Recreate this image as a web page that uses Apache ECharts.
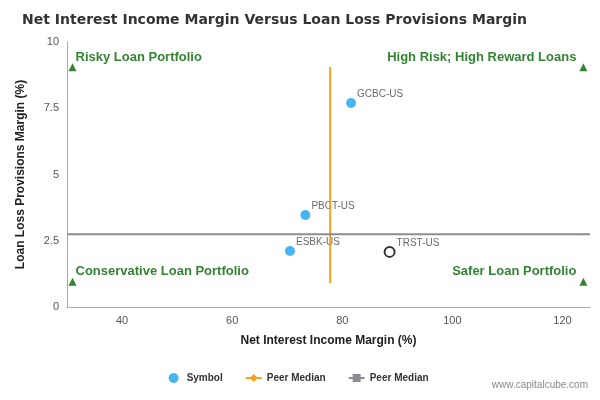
<!DOCTYPE html>
<html><head><meta charset="utf-8">
<script src="https://cdn.jsdelivr.net/npm/echarts@6/dist/echarts.min.js"></script>
<style>body{margin:0}#main{width:600px;height:400px}</style>
</head><body><div id="main"></div>
<script>
// data
var symbolNames = ['GCBC-US', 'PBCT-US', 'ESBK-US'];
var symbolX = [81.6, 73.3, 70.5];
var symbolY = [7.7, 3.47, 2.11];
var ownName = 'TRST-US';
var ownPoint = [88.6, 2.08];
var peerMedianX = 77.8;
var peerMedianY = 2.75;
var vLineY = [0.9, 9.06];
var hLineX = [30, 125];
var cornerNames = ['Risky Loan Portfolio', 'High Risk; High Reward Loans', 'Conservative Loan Portfolio', 'Safer Loan Portfolio'];
var cornerX = [31, 123.8, 31, 123.8];
var cornerY = [9.05, 9.05, 0.95, 0.95];

var myChart = echarts.init(document.getElementById('main'));
var green = '#006400';

var option = {
    animation: false,
    title: {
        text: 'Net Interest Income Margin Versus Loan Loss Provisions Margin',
        left: 17, top: 8,
        textStyle: {fontSize: 14, fontWeight: 'bold', color: '#333', fontFamily: 'DejaVu Sans'}
    },
    grid: {left: 67, right: 10, top: 42, bottom: 93},
    legend: {
        bottom: 12, itemGap: 22, itemWidth: 16, itemHeight: 10,
        textStyle: {fontSize: 10, fontWeight: 'bold', color: '#333'},
        data: [
            {name: 'Symbol', icon: 'circle'},
            {name: 'Peer Median'},
            {name: 'Peer Median '}
        ]
    },
    xAxis: {
        type: 'value', min: 30, max: 125, interval: 10,
        name: 'Net Interest Income Margin (%)', nameLocation: 'middle', nameGap: 28,
        nameTextStyle: {fontWeight: 'bold', fontSize: 12, color: '#222'},
        splitLine: {show: false},
        axisLine: {lineStyle: {color: '#aaa'}},
        axisTick: {show: false},
        axisLabel: {
            color: '#555', fontSize: 11,
            formatter: function (v) { return (v % 20 === 0 && v >= 40) ? v : ''; }
        }
    },
    yAxis: {
        type: 'value', min: 0, max: 10, interval: 2.5,
        name: 'Loan Loss Provisions Margin (%)', nameLocation: 'middle', nameGap: 40,
        nameTextStyle: {fontWeight: 'bold', fontSize: 12, color: '#222'},
        splitLine: {show: false},
        axisLine: {show: true, lineStyle: {color: '#aaa'}},
        axisTick: {show: false},
        axisLabel: {color: '#555', fontSize: 11}
    },
    series: [
        {
            name: 'Peer Median', type: 'line', symbol: 'diamond', showSymbol: false,
            itemStyle: {color: '#f7a21b'}, lineStyle: {color: '#f7a21b', width: 2},
            data: vLineY.map(function (y) { return [peerMedianX, y]; })
        },
        {
            name: 'Peer Median ', type: 'line', symbol: 'rect', showSymbol: false,
            itemStyle: {color: '#8c8c94'}, lineStyle: {color: '#8c8c94', width: 2},
            data: hLineX.map(function (x) { return [x, peerMedianY]; })
        },
        {
            name: 'Symbol', type: 'scatter', symbolSize: 10,
            itemStyle: {color: '#1aa3ee'},
            label: {show: true, position: 'right', offset: [-4, -9], fontSize: 10, color: '#444',
                formatter: function (p) { return p.name; }},
            data: symbolNames.map(function (n, i) { return {name: n, value: [symbolX[i], symbolY[i]]}; })
        },
        {
            name: 'Own', type: 'scatter', symbolSize: 10,
            itemStyle: {color: '#fff', borderColor: '#000', borderWidth: 2},
            label: {show: true, position: 'right', offset: [-4, -9], fontSize: 10, color: '#444',
                formatter: function (p) { return p.name; }},
            data: [{name: ownName, value: ownPoint}]
        },
        {
            name: 'Corners', type: 'scatter', symbol: 'triangle', symbolSize: 8,
            itemStyle: {color: green},
            data: cornerNames.map(function (n, i) {
                var right = i % 2 === 1;
                return {
                    name: n, value: [cornerX[i], cornerY[i]],
                    label: {
                        show: true, formatter: n, position: right ? 'left' : 'right',
                        offset: right ? [2, -10] : [-6, -10],
                        color: green, fontWeight: 'bold', fontSize: 13
                    }
                };
            })
        }
    ],
    graphic: [{
        type: 'text', right: 12, bottom: 10,
        style: {text: 'www.capitalcube.com', fontSize: 10, fill: '#888'}
    }]
};
myChart.setOption(option);
</script></body></html>
